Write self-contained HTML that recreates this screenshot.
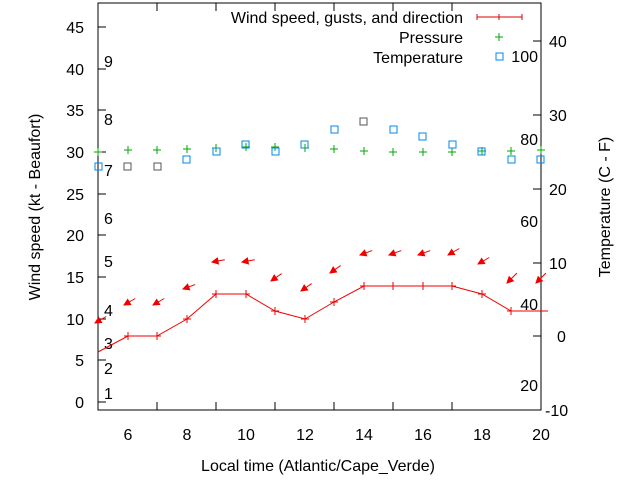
<!DOCTYPE html>
<html><head><meta charset="utf-8"><style>body{margin:0;background:#fff}svg{display:block}text{font-family:"Liberation Sans",sans-serif;font-size:16px;fill:#000}</style></head><body>
<svg width="640" height="480" xmlns="http://www.w3.org/2000/svg">
<rect x="98" y="3" width="443" height="407" fill="none" stroke="#000" stroke-width="1"/>
<g stroke="#000">
<path d="M98 402h8M98 360h8M98 319h8M98 277h8M98 235h8M98 194h8M98 152h8M98 110h8M98 69h8M98 27h8"/>
<path d="M541 410h-8M541 336h-8M541 263h-8M541 189h-8M541 115h-8M541 41h-8"/>
<path d="M157 410v-8M216 410v-8M275 410v-8M334 410v-8M393 410v-8M452 410v-8M157 3v8M216 3v8M275 3v8M334 3v8M393 3v8M452 3v8"/>
</g>
<g text-anchor="end">
<text x="84" y="408">0</text><text x="84" y="366">5</text><text x="84" y="325">10</text><text x="84" y="283">15</text><text x="84" y="241">20</text><text x="84" y="200">25</text><text x="84" y="158">30</text><text x="84" y="116">35</text><text x="84" y="75">40</text><text x="84" y="33">45</text>
</g>
<g>
<text x="545" y="416">-10</text><text x="557" y="342">0</text><text x="549" y="269">10</text><text x="549" y="195">20</text><text x="549" y="121">30</text><text x="549" y="47">40</text>
</g>
<g text-anchor="middle">
<text x="128" y="440">6</text><text x="187" y="440">8</text><text x="246" y="440">10</text><text x="305" y="440">12</text><text x="364" y="440">14</text><text x="423" y="440">16</text><text x="482" y="440">18</text><text x="541" y="440">20</text>
<text x="318" y="471">Local time (Atlantic/Cape_Verde)</text>
</g>
<text transform="translate(40 207) rotate(-90)" text-anchor="middle">Wind speed (kt - Beaufort)</text>
<text transform="translate(610 207) rotate(-90)" text-anchor="middle">Temperature (C - F)</text>
<g>
<text x="104" y="399">1</text><text x="104" y="374">2</text><text x="104" y="349">3</text><text x="104" y="316">4</text><text x="104" y="267">5</text><text x="104" y="224">6</text><text x="104" y="176">7</text><text x="104" y="125">8</text><text x="104" y="67">9</text>
</g>
<g text-anchor="end">
<text x="538" y="391">20</text><text x="538" y="310">40</text><text x="538" y="227">60</text><text x="538" y="145">80</text><text x="538" y="62">100</text>
</g>
<g text-anchor="end">
<text x="463" y="23">Wind speed, gusts, and direction</text><text x="463" y="43">Pressure</text><text x="463" y="63">Temperature</text>
</g>
<path d="M477 17h45M477 14v6M499 14v6M522 14v6" stroke="#d00" stroke-width="1"/>
<path d="M495 37h8M499 33v8" stroke="#0a0"/>
<rect x="496" y="53" width="7" height="7" fill="none" stroke="#08e"/>
<polyline fill="none" stroke="#e00" points="98,352 128,336 157,336 187,319 216,294 246,294 275,311 305,319 334,302 364,286 393,286 423,286 452,286 482,294 511,311 541,311 548,311"/>
<g stroke="#e00" fill="none">
<path d="M124 336h8M128 332v8M153 336h8M157 332v8M183 319h8M187 315v8M212 294h8M216 290v8M242 294h8M246 290v8M271 311h8M275 307v8M301 319h8M305 315v8M330 302h8M334 298v8M360 286h8M364 282v8M389 286h8M393 282v8M419 286h8M423 282v8M448 286h8M452 282v8M478 294h8M482 290v8M507 311h8M511 307v8"/>
</g>
<g stroke="#e00" fill="#e00">
<g transform="translate(95 323) rotate(-30)"><path d="M0 0h13"/><path d="M0 0l6-3v6z"/></g>
<g transform="translate(124 305) rotate(-30)"><path d="M0 0h13"/><path d="M0 0l6-3v6z"/></g>
<g transform="translate(153 305) rotate(-30)"><path d="M0 0h13"/><path d="M0 0l6-3v6z"/></g>
<g transform="translate(183 289) rotate(-20)"><path d="M0 0h13"/><path d="M0 0l6-3v6z"/></g>
<g transform="translate(212 262) rotate(-10)"><path d="M0 0h13"/><path d="M0 0l6-3v6z"/></g>
<g transform="translate(242 262) rotate(-10)"><path d="M0 0h13"/><path d="M0 0l6-3v6z"/></g>
<g transform="translate(271 281) rotate(-35)"><path d="M0 0h13"/><path d="M0 0l6-3v6z"/></g>
<g transform="translate(301 291) rotate(-35)"><path d="M0 0h13"/><path d="M0 0l6-3v6z"/></g>
<g transform="translate(330 273) rotate(-35)"><path d="M0 0h13"/><path d="M0 0l6-3v6z"/></g>
<g transform="translate(360 255) rotate(-20)"><path d="M0 0h13"/><path d="M0 0l6-3v6z"/></g>
<g transform="translate(389 255) rotate(-20)"><path d="M0 0h13"/><path d="M0 0l6-3v6z"/></g>
<g transform="translate(418 255) rotate(-20)"><path d="M0 0h13"/><path d="M0 0l6-3v6z"/></g>
<g transform="translate(448 255) rotate(-30)"><path d="M0 0h13"/><path d="M0 0l6-3v6z"/></g>
<g transform="translate(478 264) rotate(-30)"><path d="M0 0h13"/><path d="M0 0l6-3v6z"/></g>
<g transform="translate(507 283) rotate(-45)"><path d="M0 0h14"/><path d="M0 0l6-3v6z"/></g>
<g transform="translate(536 283) rotate(-45)"><path d="M0 0h14"/><path d="M0 0l6-3v6z"/></g>
</g>
<g stroke="#0a0">
<path d="M94 152h8M98 148v8M124 150h8M128 146v8M153 150h8M157 146v8M183 149h8M187 145v8M212 148h8M216 144v8M242 147h8M246 143v8M271 147h8M275 143v8M301 148h8M305 144v8M330 149h8M334 145v8M360 151h8M364 147v8M389 152h8M393 148v8M419 152h8M423 148v8M448 152h8M452 148v8M478 151h8M482 147v8M507 151h8M511 147v8M537 150h8M541 146v8"/>
</g>
<g fill="none" stroke="#08e">
<rect x="95" y="163" width="7" height="7"/>
<rect x="124" y="163" width="7" height="7" stroke="#555"/>
<rect x="154" y="163" width="7" height="7" stroke="#555"/>
<rect x="183" y="156" width="7" height="7"/>
<rect x="213" y="148" width="7" height="7"/>
<rect x="242" y="141" width="7" height="7"/>
<rect x="272" y="148" width="7" height="7"/>
<rect x="301" y="141" width="7" height="7"/>
<rect x="331" y="126" width="7" height="7"/>
<rect x="360" y="118" width="7" height="7" stroke="#555"/>
<rect x="390" y="126" width="7" height="7"/>
<rect x="419" y="133" width="7" height="7"/>
<rect x="449" y="141" width="7" height="7"/>
<rect x="478" y="148" width="7" height="7"/>
<rect x="508" y="156" width="7" height="7"/>
<rect x="537" y="156" width="7" height="7"/>
</g>
</svg>
</body></html>
